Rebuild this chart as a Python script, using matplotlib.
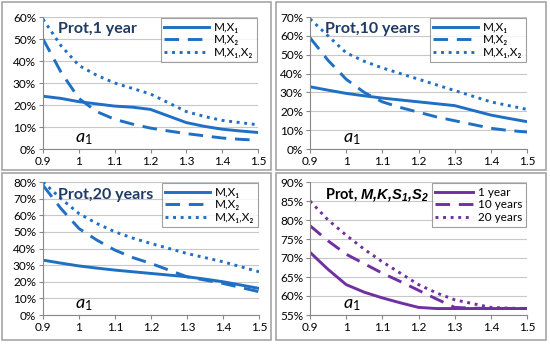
import matplotlib
matplotlib.use("Agg")
import matplotlib.pyplot as plt
from matplotlib.patches import Rectangle
from matplotlib.ticker import FuncFormatter

plt.rcParams['font.family'] = ['Lato', 'DejaVu Sans']
plt.rcParams['mathtext.fontset'] = 'custom'
plt.rcParams['mathtext.rm'] = 'Lato'
plt.rcParams['mathtext.it'] = 'Lato:italic'
plt.rcParams['mathtext.bf'] = 'Liberation Sans:bold:italic'

BLUE = '#1f6fc4'
PURPLE = '#7030a0'
NAVY = '#1f3a64'

# values (percent), x = a1
x = [0.9, 0.95, 1.0, 1.05, 1.1, 1.15, 1.2, 1.25, 1.3, 1.35, 1.4, 1.45, 1.5]

y1_mx1 = [24, 23, 21.5, 20.5, 19.5, 19, 18, 15, 12, 10.3, 9, 8.2, 7.5]
y1_mx2 = [50, 35, 23, 17, 13.5, 11.3, 9.5, 8.2, 7, 6, 5, 4.4, 4]
y1_mx12 = [59, 47, 38, 33.5, 30, 27.5, 25, 21, 17, 14.8, 13, 12, 11]

y10_mx1 = [33, 31.2, 29.5, 28.2, 27, 26, 25, 24, 23, 20.5, 18, 16.2, 14.5]
y10_mx2 = [59, 47, 37, 30, 25, 22, 19.5, 17, 15, 13, 11, 9.8, 9]
y10_mx12 = [69, 60, 51, 46.5, 43, 40, 37, 34, 31, 28, 25, 23, 21]

y20_mx1 = [33, 31.2, 29.5, 28.2, 27, 26, 25, 24, 23, 21.6, 20, 18, 16]
y20_mx2 = [78, 64, 52, 45, 39, 34.5, 31, 27, 23, 21, 19, 16.5, 14]
y20_mx12 = [80, 70, 61, 55, 50, 46.2, 43, 40, 37, 34.5, 32, 29, 26]

k_1y = [71.5, 67, 63, 61, 59.5, 58.2, 57, 56.7, 56.7, 56.7, 56.7, 56.7, 56.7]
k_10y = [78.5, 74.5, 71, 68.5, 66, 63.8, 61.5, 59.2, 57, 56.8, 56.7, 56.7, 56.7]
k_20y = [85, 80, 76, 72.3, 69, 66, 63, 60.8, 59, 58, 57, 56.8, 56.7]

panels = [
    dict(rect=(43, 17, 258, 149), box=(2, 2, 271, 170), title='Prot,1 year', ylim=(0, 60), step=10,
         series=[y1_mx1, y1_mx2, y1_mx12], labels=['M,X₁', 'M,X₂', 'M,X₁,X₂'], color=BLUE,
         tsize=11.5, hl=3.8),
    dict(rect=(310, 17, 527, 149), box=(276, 2, 546, 170), title='Prot,10 years', ylim=(0, 70), step=10,
         series=[y10_mx1, y10_mx2, y10_mx12], labels=['M,X₁', 'M,X₂', 'M,X₁,X₂'], color=BLUE,
         tsize=11.5, hl=3.8),
    dict(rect=(43, 182, 259, 315), box=(2, 173, 271, 340), title='Prot,20 years', ylim=(0, 80), step=10,
         series=[y20_mx1, y20_mx2, y20_mx12], labels=['M,X₁', 'M,X₂', 'M,X₁,X₂'], color=BLUE,
         tsize=11.5, hl=3.8),
    dict(rect=(310, 182, 527, 315), box=(276, 173, 546, 340), title=r'Prot, $\mathbf{M{,}K{,}S_1{,}S_2}$',
         ylim=(55, 90), step=5,
         series=[k_1y, k_10y, k_20y], labels=['1 year', '10 years', '20 years'], color=PURPLE,
         tsize=10.5, hl=3.2),
]

W, H = 550, 347
fig = plt.figure(figsize=(W / 100, H / 100), dpi=100)
fig.patch.set_facecolor('white')

styles = [dict(ls='-'), dict(ls=(0, (5, 3))), dict(ls=(0, (1, 1.6)))]

for p in panels:
    bx0, by0, bx1, by1 = p['box']
    fig.patches.append(Rectangle((bx0 / W, 1 - by1 / H), (bx1 - bx0) / W, (by1 - by0) / H,
                                 transform=fig.transFigure, fill=False, ec='#a6a6a6', lw=1.2))
    x0, y0, x1, y1 = p['rect']
    ax = fig.add_axes([x0 / W, 1 - y1 / H, (x1 - x0) / W, (y1 - y0) / H])
    for s, lab, st in zip(p['series'], p['labels'], styles):
        ax.plot(x, s, color=p['color'], lw=2.1, label=lab, **st)
    ax.set_xlim(0.9, 1.5)
    ax.set_ylim(*p['ylim'])
    ax.set_xticks([0.9, 1.0, 1.1, 1.2, 1.3, 1.4, 1.5])
    ax.xaxis.set_major_formatter(FuncFormatter(lambda v, _: f'{v:g}'))
    lo, hi = p['ylim']
    ax.set_yticks(range(lo, hi + 1, p['step']))
    ax.yaxis.set_major_formatter(FuncFormatter(lambda v, _: f'{v:.0f}%'))
    ax.grid(axis='y', color='#c8c8c8', lw=0.8)
    ax.set_axisbelow(True)
    for sp in ['top', 'right']:
        ax.spines[sp].set_visible(False)
    for sp in ['left', 'bottom']:
        ax.spines[sp].set_color('#888888')
    ax.tick_params(labelsize=8.5, length=3, color='#888888', pad=2)
    ax.text(0.07, 0.875, p['title'], transform=ax.transAxes, fontsize=p['tsize'],
            fontweight='bold', color=NAVY if p['color'] == BLUE else 'black')
    ax.text(0.15, 0.05, r'$a_{\mathit{1}}$', transform=ax.transAxes, fontsize=13)
    leg = ax.legend(loc='upper right', fontsize=8.5, frameon=True, fancybox=False, edgecolor='#888888',
                    borderpad=0.3, labelspacing=0.15, handlelength=p['hl'], handletextpad=0.4,
                    borderaxespad=0.1)
    leg.get_frame().set_linewidth(0.8)

fig.savefig('out.png', dpi=100)
